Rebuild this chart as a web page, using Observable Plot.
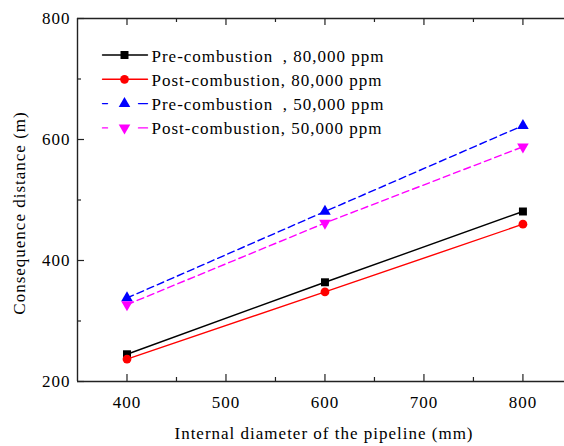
<!DOCTYPE html>
<html><head><meta charset="utf-8">
<script src="https://cdn.jsdelivr.net/npm/d3@7"></script>
<script src="https://cdn.jsdelivr.net/npm/@observablehq/plot@0.6"></script>
<style>
body{margin:0;background:#fff}
#chart svg, #chart svg text{font-family:"Liberation Serif","Times New Roman",serif !important;letter-spacing:1px}
</style>
</head><body><div id="chart"></div>
<script>
const diameters = [400, 600, 800];
const preCombustion80k = [245, 364, 481];
const postCombustion80k = [237, 348, 460];
const preCombustion50k = [338, 481, 623];
const postCombustion50k = [327, 462, 588];
const seriesNames = [
  "Pre-combustion\u00a0\u2009, 80,000 ppm",
  "Post-combustion, 80,000 ppm",
  "Pre-combustion\u00a0\u2009, 50,000 ppm",
  "Post-combustion, 50,000 ppm"
];
const xTicks = [400, 500, 600, 700, 800];
const xMinorTicks = [450, 550, 650, 750];
const yTicks = [200, 400, 600, 800];
const yMinorTicks = [300, 500, 700];
const xTitle = "Internal diameter of the pipeline (mm)";
const yTitle = "Consequence distance (m)";

const sqrt3 = Math.sqrt(3);
const triangleDown = {
  draw(context, size) {
    const y = Math.sqrt(size / (sqrt3 * 3));
    context.moveTo(0, y * 2);
    context.lineTo(-sqrt3 * y, -y);
    context.lineTo(sqrt3 * y, -y);
    context.closePath();
  }
};
const lineShape = {draw(context, l) { context.moveTo(0, 0); context.lineTo(0, -l); }};

const series = [
  {name: seriesNames[0], values: preCombustion80k, color: "#000000", symbol: "square", r: 4.5, dash: null, legendDash: null},
  {name: seriesNames[1], values: postCombustion80k, color: "#ff0000", symbol: "circle", r: 4.4, dash: null, legendDash: null},
  {name: seriesNames[2], values: preCombustion50k, color: "#0000ff", symbol: "triangle", r: 4.3, dash: "7,4", legendDash: "5,31,9"},
  {name: seriesNames[3], values: postCombustion50k, color: "#ff00ff", symbol: triangleDown, r: 4.3, dash: "7,4", legendDash: "5,31,9"}
];

const W = 564, H = 446, mL = 77, mT = 18, mR = 0, mB = 65;
const fw = W - mL - mR, fh = H - mT - mB;
const axisColor = "#222";
const font = "Liberation Serif, Times New Roman, serif";

const marks = [];
series.forEach((s, i) => {
  const rows = diameters.map((d, j) => ({x: d, y: s.values[j]}));
  marks.push(Plot.line(rows, {x: "x", y: "y", stroke: s.color, strokeWidth: 1.4, strokeDasharray: s.dash}));
});
series.forEach((s, i) => {
  const rows = diameters.map((d, j) => ({x: d, y: s.values[j]}));
  marks.push(Plot.dot(rows, {x: "x", y: "y", symbol: () => s.symbol, fill: s.color, stroke: "none", r: s.r}));
});
// legend
series.forEach((s, i) => {
  marks.push(Plot.vector([s], {frameAnchor: "top-left", dx: 25, dy: 36.5 + 24.3 * i, length: 45, rotate: 90, anchor: "start", shape: lineShape, stroke: s.color, strokeWidth: 1.4, strokeDasharray: s.legendDash}));
  marks.push(Plot.dot([s], {frameAnchor: "top-left", dx: 47, dy: 36.5 + 24.3 * i, symbol: () => s.symbol, fill: s.color, stroke: "none", r: s.r}));
  marks.push(Plot.text([s.name], {frameAnchor: "top-left", dx: 74, dy: 38.3 + 23.8 * i, textAnchor: "start", lineAnchor: "middle", fontSize: 17, fill: "#000", fontFamily: font}));
});
// frame
marks.push(Plot.ruleY([200, 800], {stroke: axisColor, strokeWidth: 1.4}));
marks.push(Plot.ruleX([350], {stroke: axisColor, strokeWidth: 1.4}));
// inward ticks
marks.push(Plot.ruleX(xTicks, {x: d => d, insetTop: fh - 7, stroke: axisColor, strokeWidth: 1.2}));
marks.push(Plot.ruleX(xMinorTicks, {x: d => d, insetTop: fh - 4, stroke: axisColor, strokeWidth: 1.2}));
marks.push(Plot.ruleX(xTicks, {x: d => d, insetBottom: fh - 7, stroke: axisColor, strokeWidth: 1.2}));
marks.push(Plot.ruleX(xMinorTicks, {x: d => d, insetBottom: fh - 4, stroke: axisColor, strokeWidth: 1.2}));
marks.push(Plot.ruleY(yTicks, {y: d => d, insetRight: fw - 7, stroke: axisColor, strokeWidth: 1.2}));
marks.push(Plot.ruleY(yMinorTicks, {y: d => d, insetRight: fw - 4, stroke: axisColor, strokeWidth: 1.2}));
// tick labels
marks.push(Plot.axisX(xTicks, {anchor: "bottom", tickSize: 0, tickPadding: 14, fontSize: 17, label: null, fill: "#000", fontFamily: font}));
marks.push(Plot.axisY(yTicks, {anchor: "left", tickSize: 0, tickPadding: 7, fontSize: 17, label: null, fill: "#000", fontFamily: font}));
// titles
marks.push(Plot.text([xTitle], {frameAnchor: "bottom", dx: 3, dy: 51.6, textAnchor: "middle", lineAnchor: "middle", fontSize: 17, fill: "#000", fontFamily: font}));
marks.push(Plot.text([yTitle], {frameAnchor: "left", dx: -58, dy: 13, rotate: -90, textAnchor: "middle", lineAnchor: "middle", fontSize: 17, fill: "#000", fontFamily: font}));

const chart = Plot.plot({
  width: W, height: H,
  marginLeft: mL, marginTop: mT, marginRight: mR, marginBottom: mB,
  style: {"font-family": font, "font-size": "17px", color: "#000", background: "#fff"},
  x: {domain: [350, 842]},
  y: {domain: [200, 800]},
  marks
});
document.getElementById("chart").appendChild(chart);
</script>
</body></html>
